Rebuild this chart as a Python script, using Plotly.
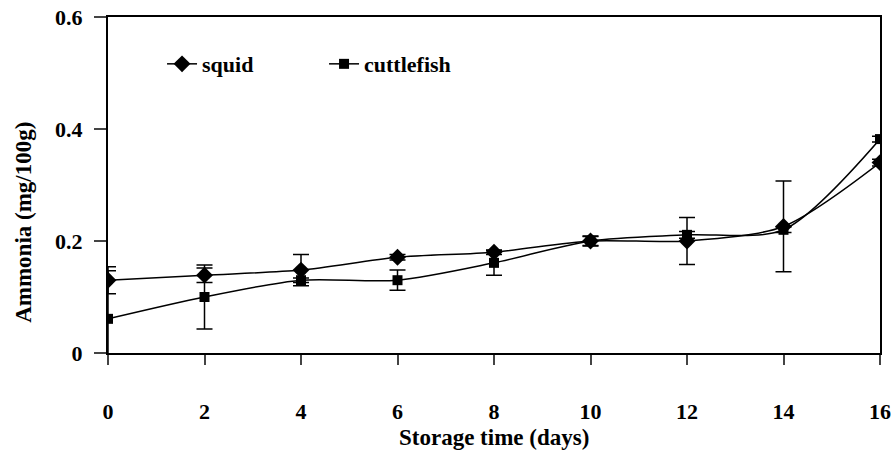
import plotly.graph_objects as go

days = [0, 2, 4, 6, 8, 10, 12, 14, 16]
squid = [0.130, 0.139, 0.148, 0.171, 0.180, 0.200, 0.200, 0.226, 0.340]
squid_err = [0.024, 0.013, 0.028, 0.005, 0.004, 0.008, 0.042, 0.081, 0.006]
cuttlefish = [0.061, 0.100, 0.130, 0.130, 0.161, 0.200, 0.211, 0.220, 0.382]
cuttlefish_err = [0.086, 0.057, 0.004, 0.018, 0.022, 0.009, 0.006, 0.005, 0.005]

x_ticks = [0, 2, 4, 6, 8, 10, 12, 14, 16]
y_ticks = [0, 0.2, 0.4, 0.6]
y_tick_text = ["0", "0.2", "0.4", "0.6"]

FONT = "Liberation Serif"

fig = go.Figure()
fig.add_trace(go.Scatter(
    x=days, y=squid, name="squid", mode="lines+markers",
    line=dict(color="black", width=1.5, shape="spline", smoothing=0.8),
    marker=dict(symbol="diamond", size=13, color="black"),
    error_y=dict(type="data", array=squid_err, visible=True,
                 color="black", thickness=1.5, width=8),
))
fig.add_trace(go.Scatter(
    x=days, y=cuttlefish, name="cuttlefish", mode="lines+markers",
    line=dict(color="black", width=1.5, shape="spline", smoothing=0.8),
    marker=dict(symbol="square", size=10, color="black"),
    error_y=dict(type="data", array=cuttlefish_err, visible=True,
                 color="black", thickness=1.5, width=8),
))

fig.update_layout(
    width=896, height=453,
    margin=dict(l=108, r=16, t=17, b=100, autoexpand=False),
    paper_bgcolor="white", plot_bgcolor="white",
    font=dict(family=FONT, color="black", size=17),
    showlegend=True,
    legend=dict(
        orientation="h", x=0.07, y=0.86, xanchor="left", yanchor="middle",
        bgcolor="rgba(0,0,0,0)", entrywidth=117, entrywidthmode="pixels",
        font=dict(family=FONT, size=22, color="black", weight="bold"),
    ),
    xaxis=dict(
        range=[0, 16], tickvals=x_ticks, ticks="outside", ticklen=10,
        tickcolor="#444", tickwidth=1.5, automargin=False,
        showline=True, linecolor="black", linewidth=2, mirror=True,
        showgrid=False, zeroline=False,
        tickfont=dict(family=FONT, size=22, color="black", weight="bold"),
        ticklabelstandoff=28,
    ),
    yaxis=dict(
        range=[0, 0.6], tickvals=y_ticks, ticktext=y_tick_text,
        ticks="outside", ticklen=12, tickcolor="#444", tickwidth=1.5,
        automargin=False,
        showline=True, linecolor="black", linewidth=2, mirror=True,
        showgrid=False, zeroline=False,
        tickfont=dict(family=FONT, size=22, color="black", weight="bold"),
        ticklabelstandoff=7,
    ),
    annotations=[
        dict(
            text="Ammonia (mg/100g)", textangle=-90, showarrow=False,
            xref="paper", yref="paper", x=-0.109, y=0.39,
            xanchor="center", yanchor="middle",
            font=dict(family=FONT, size=23, color="black", weight="bold"),
        ),
        dict(
            text="Storage time (days)", showarrow=False,
            xref="paper", yref="paper", x=0.5, y=-0.25,
            xanchor="center", yanchor="middle",
            font=dict(family=FONT, size=23, color="black", weight="bold"),
        ),
    ],
)

fig.write_html("out.html")
